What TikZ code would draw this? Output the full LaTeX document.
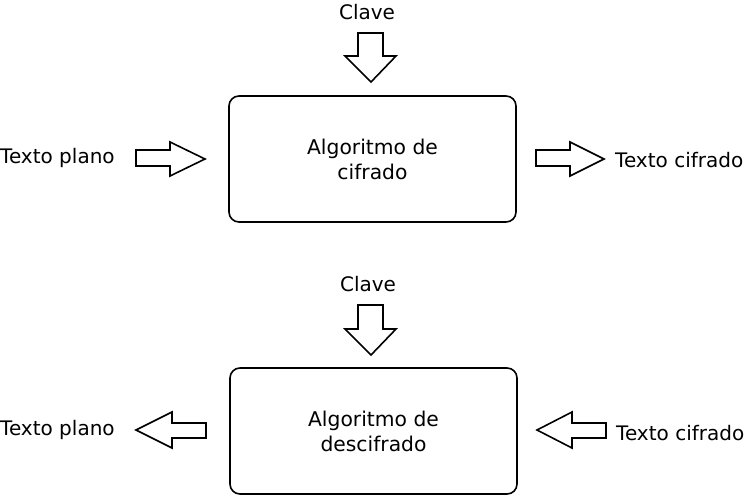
\documentclass[tikz,border=0pt]{standalone}
\usepackage{fontspec}
\setmainfont{DejaVu Sans}
\begin{document}
\begin{tikzpicture}[x=1pt,y=-1pt,
  lbl/.style={font=\fontsize{20}{24}\selectfont, inner sep=0pt},
  algbox/.style={draw, line width=1.6pt, rounded corners=10pt, minimum width=287pt, minimum height=126pt, align=center, font=\fontsize{20.3}{25}\selectfont},
  blk/.style={draw, line width=1.6pt, fill=white, line join=miter}]
\useasboundingbox (0,0) rectangle (746,495);
% top
\node[algbox] (enc) at (372.5,159) {Algoritmo de\\cifrado};
\node[lbl] (k1) at (367,12) {Clave};
\node[lbl, anchor=west] (p1) at (0,158) {Texto plano};
\node[lbl, anchor=west] (c1) at (615,160) {Texto cifrado};
\draw[blk] (358,33) -- (383,33) -- (383,56) -- (396,56) -- (371,82) -- (345,56) -- (358,56) -- cycle;
\draw[blk] (136,150) -- (170,150) -- (170,142) -- (205,159) -- (170,176) -- (170,166) -- (136,166) -- cycle;
\draw[blk] (536,150) -- (570,150) -- (570,142) -- (604,159) -- (570,176) -- (570,166) -- (536,166) -- cycle;
% bottom
\node[algbox] (dec) at (373.5,431) {Algoritmo de\\descifrado};
\node[lbl] (k2) at (368,284) {Clave};
\node[lbl, anchor=west] (p2) at (0,430) {Texto plano};
\node[lbl, anchor=west] (c2) at (616,433) {Texto cifrado};
\draw[blk] (358,305) -- (383,305) -- (383,329) -- (396,329) -- (371,355) -- (345,329) -- (358,329) -- cycle;
\draw[blk] (206,423) -- (172,423) -- (172,412) -- (136,430) -- (172,448) -- (172,438) -- (206,438) -- cycle;
\draw[blk] (606,423) -- (572,423) -- (572,412) -- (537,430) -- (572,448) -- (572,438) -- (606,438) -- cycle;
\end{tikzpicture}
\end{document}
